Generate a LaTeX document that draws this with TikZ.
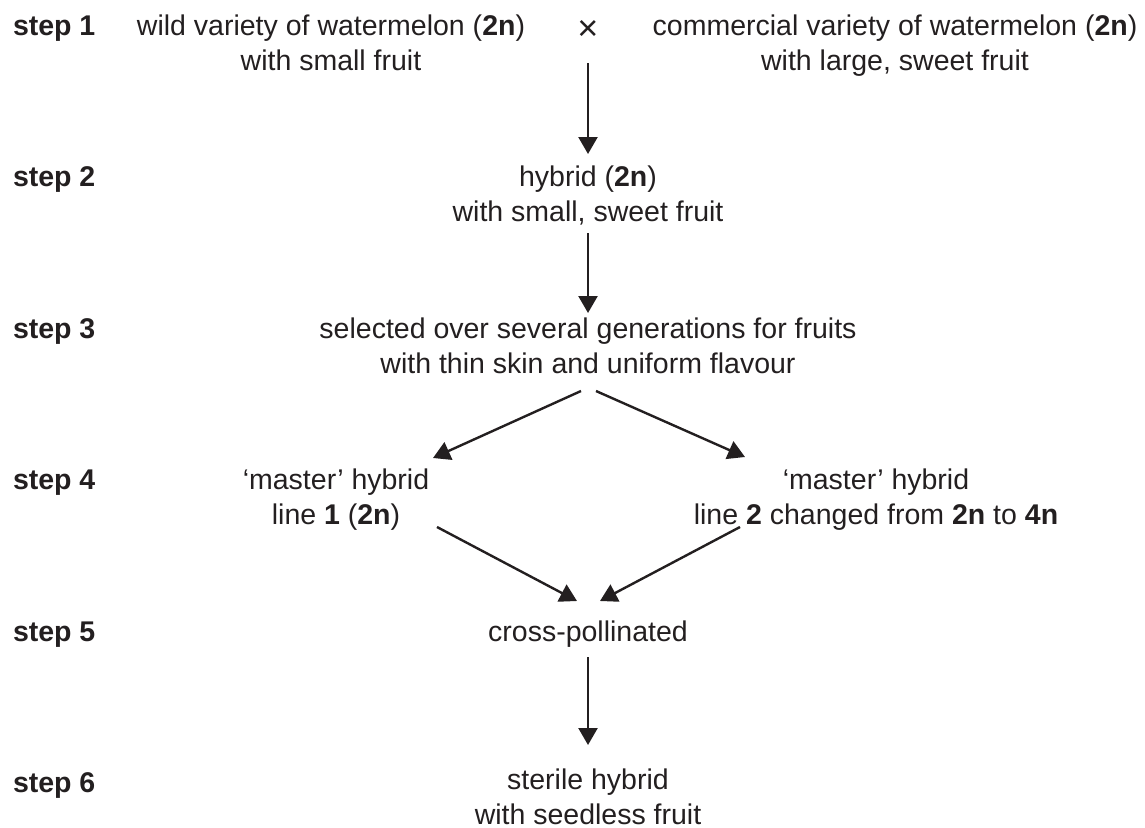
\documentclass[tikz,border=0pt]{standalone}
\usepackage{fontspec}
\setmainfont{Liberation Sans}
\usetikzlibrary{arrows.meta}
\definecolor{ink}{RGB}{35,31,32}
\begin{document}
\begin{tikzpicture}[x=1pt,y=-1pt,
  txt/.style={inner sep=0pt, outer sep=0pt, anchor=base, align=center, text=ink,
    font=\fontsize{28.5}{35}\selectfont},
  steplabel/.style={txt, anchor=base west, font=\fontsize{28.5}{35}\selectfont\bfseries},
  arr/.style={draw=ink, line width=2.4pt, -{Triangle[length=17pt,width=19pt]}}]
\useasboundingbox (0,0) rectangle (1145,827);
% step labels
\node[steplabel] (s1) at (13,35) {step 1};
\node[steplabel] (s2) at (13,186) {step 2};
\node[steplabel] (s3) at (13,338) {step 3};
\node[steplabel] (s4) at (13,489) {step 4};
\node[steplabel] (s5) at (13,641) {step 5};
\node[steplabel] (s6) at (13,792) {step 6};
% content (base anchor = baseline of the last line)
\node[txt] (wild) at (331,70) {wild variety of watermelon (\textbf{2n})\\with small fruit};
\node[txt, anchor=center, font=\fontsize{36}{40}\selectfont] (cross) at (588,30) {×};
\node[txt] (comm) at (895,70) {commercial variety of watermelon (\textbf{2n})\\with large, sweet fruit};
\node[txt] (hyb) at (588,221) {hybrid (\textbf{2n})\\with small, sweet fruit};
\node[txt] (sel) at (588,373) {selected over several generations for fruits\\with thin skin and uniform flavour};
\node[txt] (m1) at (336,524) {‘master’ hybrid\\line \textbf{1} (\textbf{2n})};
\node[txt] (m2) at (876,524) {‘master’ hybrid\\line \textbf{2} changed from \textbf{2n} to \textbf{4n}};
\node[txt] (cp) at (588,641) {cross-pollinated};
\node[txt] (ster) at (588,824) {sterile hybrid\\with seedless fruit};
% arrows
\draw[arr] ([yshift=-33pt]cross.center) -- ([yshift=67pt]hyb.base);
\draw[arr] ([yshift=-12pt]hyb.base) -- ([yshift=60pt]sel.base);
\draw[arr] ([xshift=-7pt,yshift=-18pt]sel.base) -- ([xshift=97pt,yshift=66pt]m1.base);
\draw[arr] ([xshift=8pt,yshift=-18pt]sel.base) -- ([xshift=-131pt,yshift=67pt]m2.base);
\draw[arr] ([xshift=101pt,yshift=-3pt]m1.base) -- ([xshift=-11pt,yshift=40pt]cp.base);
\draw[arr] ([xshift=-136pt,yshift=-3pt]m2.base) -- ([xshift=12pt,yshift=40pt]cp.base);
\draw[arr] ([yshift=-16pt]cp.base) -- ([yshift=79pt]ster.base);
\end{tikzpicture}
\end{document}
